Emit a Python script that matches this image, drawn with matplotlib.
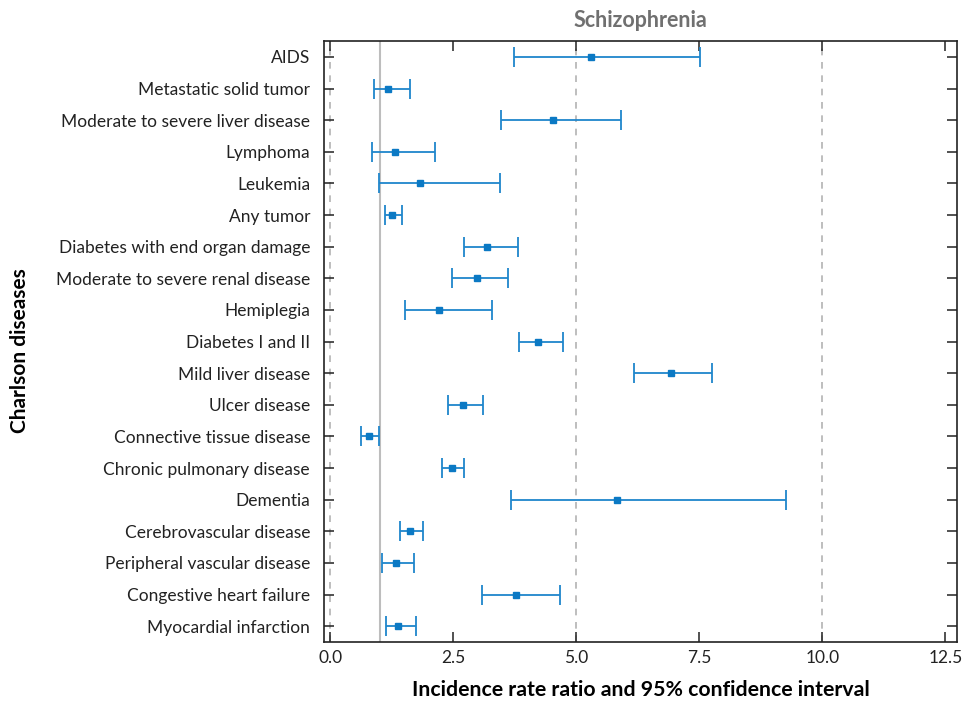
import matplotlib
matplotlib.use("Agg")
import matplotlib.pyplot as plt
import numpy as np

# Charlson diseases, top to bottom as shown
diseases = [
    "AIDS",
    "Metastatic solid tumor",
    "Moderate to severe liver disease",
    "Lymphoma",
    "Leukemia",
    "Any tumor",
    "Diabetes with end organ damage",
    "Moderate to severe renal disease",
    "Hemiplegia",
    "Diabetes I and II",
    "Mild liver disease",
    "Ulcer disease",
    "Connective tissue disease",
    "Chronic pulmonary disease",
    "Dementia",
    "Cerebrovascular disease",
    "Peripheral vascular disease",
    "Congestive heart failure",
    "Myocardial infarction",
]

# incidence rate ratio and 95% CI
irr = [5.30, 1.17, 4.52, 1.31, 1.83, 1.25, 3.19, 2.99, 2.21, 4.23,
       6.93, 2.70, 0.78, 2.48, 5.83, 1.62, 1.33, 3.78, 1.37]
ci_low = [3.74, 0.88, 3.47, 0.84, 0.98, 1.12, 2.71, 2.47, 1.51, 3.84,
          6.18, 2.39, 0.63, 2.27, 3.67, 1.41, 1.06, 3.09, 1.13]
ci_high = [7.51, 1.62, 5.90, 2.12, 3.44, 1.46, 3.82, 3.61, 3.29, 4.72,
           7.76, 3.10, 0.99, 2.71, 9.25, 1.89, 1.71, 4.67, 1.75]

xticks = [0.0, 2.5, 5.0, 7.5, 10.0, 12.5]
ref_lines = [0.0, 5.0, 10.0]

plt.rcParams['font.family'] = ['Lato', 'DejaVu Sans']

fig = plt.figure(figsize=(9.64, 7.02), dpi=100)
ax = fig.add_axes([0.336, 0.0855, 0.657, 0.856])

n = len(diseases)
y = np.arange(n)[::-1]
irr_a = np.array(irr)
err = [irr_a - np.array(ci_low), np.array(ci_high) - irr_a]

for v in ref_lines:
    ax.axvline(v, color='#b3b3b3', linestyle=(0, (4, 4)), linewidth=1.2, zorder=0)
ax.axvline(1.0, color='#bdbdbd', linewidth=1.5, zorder=0)

ax.errorbar(irr, y, xerr=err, fmt='s', color='#0b79c4', ecolor='#1f86cc',
            markersize=5, elinewidth=1.3, capsize=7, capthick=1.3, zorder=3)

ax.set_xlim(-0.13, 12.74)
ax.set_ylim(-0.5, n - 0.5)
ax.set_xticks(xticks)
ax.set_xticklabels([f"{t:.1f}" for t in xticks])
ax.set_yticks(y)
ax.set_yticklabels(diseases)

ax.tick_params(axis='both', direction='in', length=7, width=1.1,
               top=True, right=True, labelsize=12.5, colors='#222222')
ax.tick_params(axis='y', pad=10)
ax.tick_params(axis='x', pad=6)
for s in ax.spines.values():
    s.set_linewidth(1.2)
    s.set_color('#222222')

ax.set_title("Schizophrenia", fontsize=15.5, fontweight='bold', color='#707070', pad=10)
ax.set_xlabel("Incidence rate ratio and 95% confidence interval",
              fontsize=15.3, fontweight='bold', labelpad=10)
fig.text(0.021, 0.5, "Charlson diseases", rotation=90, fontsize=15,
         fontweight='bold', va='center', ha='center')

fig.savefig("out.png", dpi=100)
